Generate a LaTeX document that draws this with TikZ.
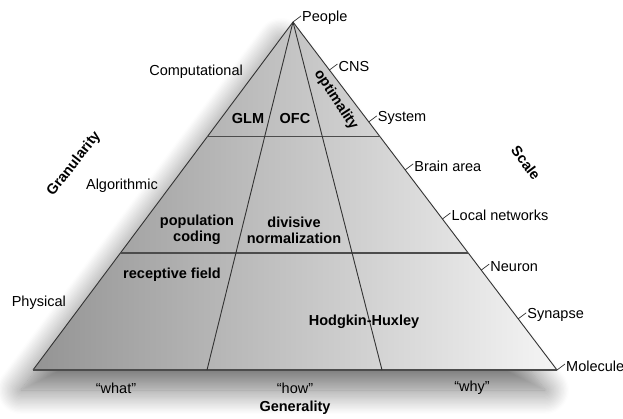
\documentclass[tikz,border=0pt]{standalone}
\usepackage{fontspec}
\setmainfont{Liberation Sans}
\usetikzlibrary{calc,shadows.blur}

\begin{document}
\begin{tikzpicture}[x=1pt, y=-1pt,
    txt/.style={font=\fontsize{14.5}{17}\selectfont, inner sep=1pt},
    lab/.style={txt, font=\fontsize{14.5}{16}\selectfont\bfseries, align=center},
    edge/.style={line width=0.9pt, draw=black!80},
    band/.style={line width=1.3pt, draw=black!70},
    tick/.style={line width=0.7pt, draw=black!80}
]
\useasboundingbox (0,0) rectangle (623,419);

% corners of the pyramid
\coordinate (top) at (293,22);
\coordinate (bl) at (33,370);
\coordinate (br) at (557,370);
\coordinate (m1) at (207,370);
\coordinate (m2) at (382,370);
\coordinate (a1) at ($(top)!0.33!(bl)$);
\coordinate (b1) at ($(top)!0.33!(br)$);
\coordinate (a2) at ($(top)!0.664!(bl)$);
\coordinate (b2) at ($(top)!0.664!(br)$);

\shade[left color=black!42, right color=black!4,
    blur shadow={shadow xshift=-12pt, shadow yshift=-20pt, shadow blur radius=24pt,
    shadow blur steps=20, shadow opacity=55}]
    (top) -- (bl) -- (br) -- cycle;

\draw[edge] (top) -- (bl);
\draw[edge] (top) -- (br);
\draw[band] (bl) -- (br);
\draw[band] (a1) -- (b1);
\draw[band] (a2) -- (b2);
\draw[edge] (top) -- (m1);
\draw[edge] (top) -- (m2);

% scale ticks on the right edge
\foreach \n/\t/\s in {pe/0/People, cns/0.138/CNS, sys/0.287/System,
    ba/0.425/Brain area, ln/0.566/Local networks, neu/0.713/Neuron,
    syn/0.853/Synapse, mol/1/Molecule} {
  \coordinate (e\n) at ($(top)!\t!(br)$);
  \draw[tick] (e\n) -- ++(8,-6) coordinate (t\n);
  \node[txt, anchor=west, yshift=-2pt] (s\n) at (t\n) {\s};
}

% granularity levels
\node[txt, anchor=east] (comp) at (244,72) {Computational};
\node[txt, anchor=east] (algo) at (159,186) {Algorithmic};
\node[txt, anchor=east] (phys) at (67,303) {Physical};

\node[lab, rotate=52] (gran) at (74,164) {Granularity};
\node[lab, rotate=-53] (scale) at (526,163) {Scale};

% models
\node[lab] (glm) at (248,119) {GLM};
\node[lab] (ofc) at (295,119) {OFC};
\node[lab, rotate=-57] (opt) at (336,100) {optimality};
\node[lab] (pop) at (197,230) {population\\coding};
\node[lab] (div) at (294,230) {divisive\\normalization};
\node[lab] (rf) at (172,275) {receptive field};
\node[lab] (hh) at (364,322) {Hodgkin-Huxley};

% generality
\node[txt] (what) at (116,388) {“what”};
\node[txt] (how) at (295,388) {“how”};
\node[txt] (why) at (472,388) {“why”};
\node[lab] (gen) at (295,408) {Generality};
\end{tikzpicture}
\end{document}
